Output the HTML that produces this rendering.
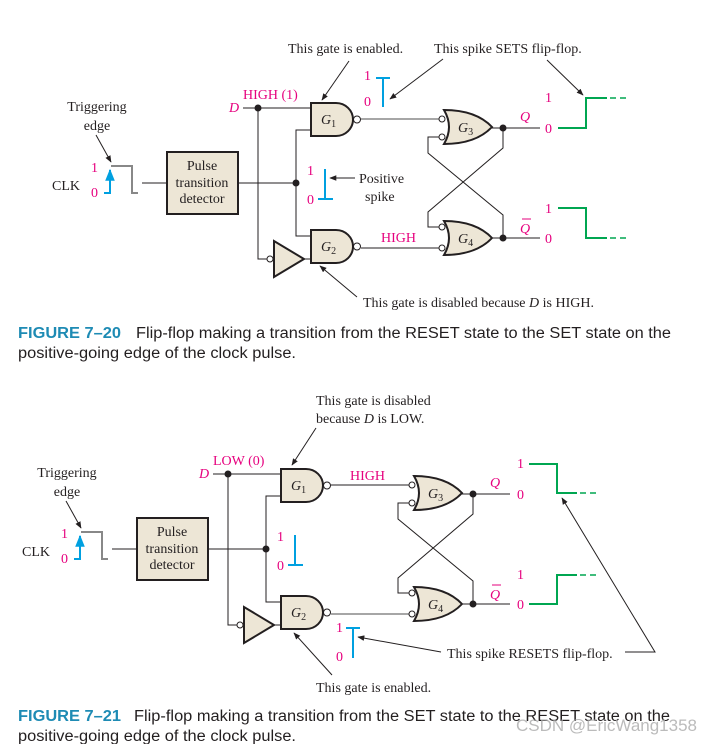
<!DOCTYPE html>
<html><head><meta charset="utf-8"><style>
html,body{margin:0;padding:0;background:#fff;}
svg{display:block;}
.t{font-family:"Liberation Serif",serif;font-size:14px;fill:#231f20;}
.m{font-family:"Liberation Serif",serif;font-size:14px;fill:#e6007e;}
.g{font-family:"Liberation Serif",serif;font-size:14px;fill:#231f20;font-style:italic;}
.cap{font-family:"Liberation Sans",sans-serif;font-size:15.5px;fill:#231f20;}
.fig{font-family:"Liberation Sans",sans-serif;font-size:15.5px;font-weight:bold;fill:#1e8bb4;}
</style></head><body>
<svg width="711" height="744" viewBox="0 0 711 744" xmlns="http://www.w3.org/2000/svg">
<defs>
<marker id="ar" viewBox="0 0 10 10" refX="9" refY="5" markerWidth="7" markerHeight="7" orient="auto-start-reverse"><path d="M0,1 L10,5 L0,9 Z" fill="#231f20"/></marker>
<marker id="ab" viewBox="0 0 10 10" refX="9" refY="5" markerWidth="6" markerHeight="6" orient="auto"><path d="M0,1 L10,5 L0,9 Z" fill="#00a0e0"/></marker>
</defs>

<g id="f1">
<text class="t" x="97" y="111" text-anchor="middle">Triggering</text>
<text class="t" x="97" y="130" text-anchor="middle">edge</text>
<line x1="96" y1="135" x2="111" y2="162" stroke="#231f20" stroke-width="1" marker-end="url(#ar)"/>
<text class="t" x="52" y="190">CLK</text>
<text class="m" x="91" y="172">1</text>
<text class="m" x="91" y="197">0</text>
<polyline points="104,193 110,193 110,170" fill="none" stroke="#00a0e0" stroke-width="2" marker-end="url(#ab)"/>
<polyline points="111,166 132,166 132,193 138,193" fill="none" stroke="#888" stroke-width="2"/>
<line x1="142" y1="183" x2="167" y2="183" stroke="#231f20"/>
<rect x="167" y="152" width="71" height="62" fill="#ede6d6" stroke="#231f20" stroke-width="2"/>
<text class="t" x="202" y="170" text-anchor="middle">Pulse</text>
<text class="t" x="202" y="187" text-anchor="middle">transition</text>
<text class="t" x="202" y="203" text-anchor="middle">detector</text>
<line x1="238" y1="183" x2="296" y2="183" stroke="#231f20"/>
<circle cx="296" cy="183" r="3.5" fill="#231f20"/>
<text class="m" x="229" y="112" font-style="italic">D</text>
<line x1="243" y1="108" x2="311" y2="108" stroke="#231f20"/>
<circle cx="258" cy="108" r="3.5" fill="#231f20"/>
<text class="m" x="243" y="99">HIGH (1)</text>
<polyline points="258,108 258,259 267,259" fill="none" stroke="#231f20"/>
<circle cx="270" cy="259" r="3" fill="#fff" stroke="#231f20"/>
<polygon points="274,241 274,277 304,259" fill="#ede6d6" stroke="#231f20" stroke-width="2"/>
<line x1="304" y1="259" x2="311" y2="259" stroke="#231f20"/>
<polyline points="311,130 296,130 296,236 311,236" fill="none" stroke="#231f20"/>
<path d="M311,103 H336 A17,16.5 0 0 1 336,136 H311 Z" fill="#ede6d6" stroke="#231f20" stroke-width="2"/>
<circle cx="357" cy="119.5" r="3.5" fill="#fff" stroke="#231f20"/>
<text class="g" x="321" y="124">G<tspan font-size="10" dy="3" font-style="normal">1</tspan></text>
<path d="M311,230 H336 A17,16.5 0 0 1 336,263 H311 Z" fill="#ede6d6" stroke="#231f20" stroke-width="2"/>
<circle cx="357" cy="246.5" r="3.5" fill="#fff" stroke="#231f20"/>
<text class="g" x="321" y="251">G<tspan font-size="10" dy="3" font-style="normal">2</tspan></text>
<line x1="361" y1="119" x2="439" y2="119" stroke="#888" stroke-width="1.5"/>
<line x1="361" y1="248" x2="439" y2="248" stroke="#231f20"/>
<text class="m" x="381" y="242">HIGH</text>
<path d="M444,110 Q454,127 444,144 Q476,144 492,127 Q476,110 444,110 Z" fill="#ede6d6" stroke="#231f20" stroke-width="2"/>
<circle cx="442" cy="119" r="3" fill="#fff" stroke="#231f20"/>
<circle cx="442" cy="137" r="3" fill="#fff" stroke="#231f20"/>
<text class="g" x="458" y="132">G<tspan font-size="10" dy="3" font-style="normal">3</tspan></text>
<path d="M444,221 Q454,238 444,255 Q476,255 492,238 Q476,221 444,221 Z" fill="#ede6d6" stroke="#231f20" stroke-width="2"/>
<circle cx="442" cy="227" r="3" fill="#fff" stroke="#231f20"/>
<circle cx="442" cy="248" r="3" fill="#fff" stroke="#231f20"/>
<text class="g" x="458" y="243">G<tspan font-size="10" dy="3" font-style="normal">4</tspan></text>
<line x1="492" y1="128" x2="540" y2="128" stroke="#231f20"/>
<circle cx="503" cy="128" r="3.5" fill="#231f20"/>
<line x1="492" y1="238" x2="540" y2="238" stroke="#231f20"/>
<circle cx="503" cy="238" r="3.5" fill="#231f20"/>
<polyline points="503,128 503,148 428,212 428,227 439,227" fill="none" stroke="#231f20"/>
<polyline points="439,137 428,137 428,153 503,215 503,238" fill="none" stroke="#231f20"/>
<text class="m" x="520" y="121" font-style="italic">Q</text>
<text class="m" x="520" y="233" font-style="italic">Q</text>
<line x1="522" y1="219" x2="531" y2="219" stroke="#e6007e"/>
<text class="m" x="545" y="102">1</text>
<text class="m" x="545" y="133">0</text>
<text class="m" x="545" y="213">1</text>
<text class="m" x="545" y="243">0</text>
<polyline points="558,128 586,128 586,98 607,98" fill="none" stroke="#00a651" stroke-width="2"/>
<line x1="610" y1="98" x2="628" y2="98" stroke="#00a651" stroke-width="1.5" stroke-dasharray="6,4"/>
<polyline points="558,208 586,208 586,238 607,238" fill="none" stroke="#00a651" stroke-width="2"/>
<line x1="610" y1="238" x2="628" y2="238" stroke="#00a651" stroke-width="1.5" stroke-dasharray="6,4"/>
<text class="m" x="307" y="175">1</text>
<text class="m" x="307" y="204">0</text>
<polyline points="325,169 325,199 318,199 333,199" fill="none" stroke="#00a0e0" stroke-width="2"/>
<line x1="355" y1="178" x2="330" y2="178" stroke="#231f20" marker-end="url(#ar)"/>
<text class="t" x="359" y="183">Positive</text>
<text class="t" x="365" y="201">spike</text>
<text class="m" x="364" y="80">1</text>
<text class="m" x="364" y="106">0</text>
<polyline points="376,78 390,78 383,78 383,107" fill="none" stroke="#00a0e0" stroke-width="2"/>
<text class="t" x="288" y="53">This gate is enabled.</text>
<line x1="349" y1="61" x2="322" y2="100" stroke="#231f20" marker-end="url(#ar)"/>
<text class="t" x="434" y="53">This spike SETS flip-flop.</text>
<line x1="443" y1="59" x2="390" y2="99" stroke="#231f20" marker-end="url(#ar)"/>
<line x1="547" y1="60" x2="583" y2="95" stroke="#231f20" marker-end="url(#ar)"/>
<line x1="357" y1="297" x2="320" y2="266" stroke="#231f20" marker-end="url(#ar)"/>
<text class="t" x="363" y="307">This gate is disabled because <tspan font-style="italic">D</tspan> is HIGH.</text>
</g>
<text class="fig" x="18" y="338" textLength="103" lengthAdjust="spacingAndGlyphs">FIGURE 7–20</text>
<text class="cap" x="136" y="338" textLength="535" lengthAdjust="spacingAndGlyphs">Flip-flop making a transition from the RESET state to the SET state on the</text>
<text class="cap" x="18" y="358" textLength="278" lengthAdjust="spacingAndGlyphs">positive-going edge of the clock pulse.</text>

<g transform="translate(-30,366)">
<text class="t" x="97" y="111" text-anchor="middle">Triggering</text>
<text class="t" x="97" y="130" text-anchor="middle">edge</text>
<line x1="96" y1="135" x2="111" y2="162" stroke="#231f20" stroke-width="1" marker-end="url(#ar)"/>
<text class="t" x="52" y="190">CLK</text>
<text class="m" x="91" y="172">1</text>
<text class="m" x="91" y="197">0</text>
<polyline points="104,193 110,193 110,170" fill="none" stroke="#00a0e0" stroke-width="2" marker-end="url(#ab)"/>
<polyline points="111,166 132,166 132,193 138,193" fill="none" stroke="#888" stroke-width="2"/>
<line x1="142" y1="183" x2="167" y2="183" stroke="#231f20"/>
<rect x="167" y="152" width="71" height="62" fill="#ede6d6" stroke="#231f20" stroke-width="2"/>
<text class="t" x="202" y="170" text-anchor="middle">Pulse</text>
<text class="t" x="202" y="187" text-anchor="middle">transition</text>
<text class="t" x="202" y="203" text-anchor="middle">detector</text>
<line x1="238" y1="183" x2="296" y2="183" stroke="#231f20"/>
<circle cx="296" cy="183" r="3.5" fill="#231f20"/>
<text class="m" x="229" y="112" font-style="italic">D</text>
<line x1="243" y1="108" x2="311" y2="108" stroke="#231f20"/>
<circle cx="258" cy="108" r="3.5" fill="#231f20"/>
<text class="m" x="243" y="99">LOW (0)</text>
<polyline points="258,108 258,259 267,259" fill="none" stroke="#231f20"/>
<circle cx="270" cy="259" r="3" fill="#fff" stroke="#231f20"/>
<polygon points="274,241 274,277 304,259" fill="#ede6d6" stroke="#231f20" stroke-width="2"/>
<line x1="304" y1="259" x2="311" y2="259" stroke="#231f20"/>
<polyline points="311,130 296,130 296,236 311,236" fill="none" stroke="#231f20"/>
<path d="M311,103 H336 A17,16.5 0 0 1 336,136 H311 Z" fill="#ede6d6" stroke="#231f20" stroke-width="2"/>
<circle cx="357" cy="119.5" r="3.5" fill="#fff" stroke="#231f20"/>
<text class="g" x="321" y="124">G<tspan font-size="10" dy="3" font-style="normal">1</tspan></text>
<path d="M311,230 H336 A17,16.5 0 0 1 336,263 H311 Z" fill="#ede6d6" stroke="#231f20" stroke-width="2"/>
<circle cx="357" cy="246.5" r="3.5" fill="#fff" stroke="#231f20"/>
<text class="g" x="321" y="251">G<tspan font-size="10" dy="3" font-style="normal">2</tspan></text>
<line x1="361" y1="119" x2="439" y2="119" stroke="#231f20"/>
<text class="m" x="380" y="114">HIGH</text>
<line x1="361" y1="248" x2="439" y2="248" stroke="#888" stroke-width="1.5"/>
<path d="M444,110 Q454,127 444,144 Q476,144 492,127 Q476,110 444,110 Z" fill="#ede6d6" stroke="#231f20" stroke-width="2"/>
<circle cx="442" cy="119" r="3" fill="#fff" stroke="#231f20"/>
<circle cx="442" cy="137" r="3" fill="#fff" stroke="#231f20"/>
<text class="g" x="458" y="132">G<tspan font-size="10" dy="3" font-style="normal">3</tspan></text>
<path d="M444,221 Q454,238 444,255 Q476,255 492,238 Q476,221 444,221 Z" fill="#ede6d6" stroke="#231f20" stroke-width="2"/>
<circle cx="442" cy="227" r="3" fill="#fff" stroke="#231f20"/>
<circle cx="442" cy="248" r="3" fill="#fff" stroke="#231f20"/>
<text class="g" x="458" y="243">G<tspan font-size="10" dy="3" font-style="normal">4</tspan></text>
<line x1="492" y1="128" x2="540" y2="128" stroke="#231f20"/>
<circle cx="503" cy="128" r="3.5" fill="#231f20"/>
<line x1="492" y1="238" x2="540" y2="238" stroke="#231f20"/>
<circle cx="503" cy="238" r="3.5" fill="#231f20"/>
<polyline points="503,128 503,148 428,212 428,227 439,227" fill="none" stroke="#231f20"/>
<polyline points="439,137 428,137 428,153 503,215 503,238" fill="none" stroke="#231f20"/>
<text class="m" x="520" y="121" font-style="italic">Q</text>
<text class="m" x="520" y="233" font-style="italic">Q</text>
<line x1="522" y1="219" x2="531" y2="219" stroke="#e6007e"/>
<text class="m" x="547" y="102">1</text>
<text class="m" x="547" y="133">0</text>
<text class="m" x="547" y="213">1</text>
<text class="m" x="547" y="243">0</text>
<polyline points="559,98 587,98 587,127 607,127" fill="none" stroke="#00a651" stroke-width="2"/>
<line x1="610" y1="127" x2="630" y2="127" stroke="#00a651" stroke-width="1.5" stroke-dasharray="6,4"/>
<polyline points="559,238 587,238 587,209 607,209" fill="none" stroke="#00a651" stroke-width="2"/>
<line x1="610" y1="209" x2="630" y2="209" stroke="#00a651" stroke-width="1.5" stroke-dasharray="6,4"/>
<text class="m" x="307" y="175">1</text>
<text class="m" x="307" y="204">0</text>
<polyline points="325,169 325,199 318,199 333,199" fill="none" stroke="#00a0e0" stroke-width="2"/>
<text class="m" x="366" y="266">1</text>
<text class="m" x="366" y="295">0</text>
<polyline points="376,262 390,262 383,262 383,292" fill="none" stroke="#00a0e0" stroke-width="2"/>
</g>
<text class="t" x="316" y="405">This gate is disabled</text>
<text class="t" x="316" y="423">because <tspan font-style="italic">D</tspan> is LOW.</text>
<line x1="316" y1="428" x2="292" y2="465" stroke="#231f20" marker-end="url(#ar)"/>
<line x1="441" y1="652" x2="358" y2="637" stroke="#231f20" marker-end="url(#ar)"/>
<text class="t" x="447" y="658">This spike RESETS flip-flop.</text>
<polyline points="625,652 655,652 562,498" fill="none" stroke="#231f20" marker-end="url(#ar)"/>
<line x1="332" y1="675" x2="294" y2="633" stroke="#231f20" marker-end="url(#ar)"/>
<text class="t" x="316" y="692">This gate is enabled.</text>
<text class="fig" x="18" y="721" textLength="103" lengthAdjust="spacingAndGlyphs">FIGURE 7–21</text>
<text class="cap" x="134" y="721" textLength="536" lengthAdjust="spacingAndGlyphs">Flip-flop making a transition from the SET state to the RESET state on the</text>
<text class="cap" x="18" y="741" textLength="278" lengthAdjust="spacingAndGlyphs">positive-going edge of the clock pulse.</text>
<text x="516" y="731" font-family="Liberation Sans, sans-serif" font-size="17" fill="#aaa" fill-opacity="0.8" textLength="181" lengthAdjust="spacingAndGlyphs">CSDN @EricWang1358</text>
</svg>
</body></html>
